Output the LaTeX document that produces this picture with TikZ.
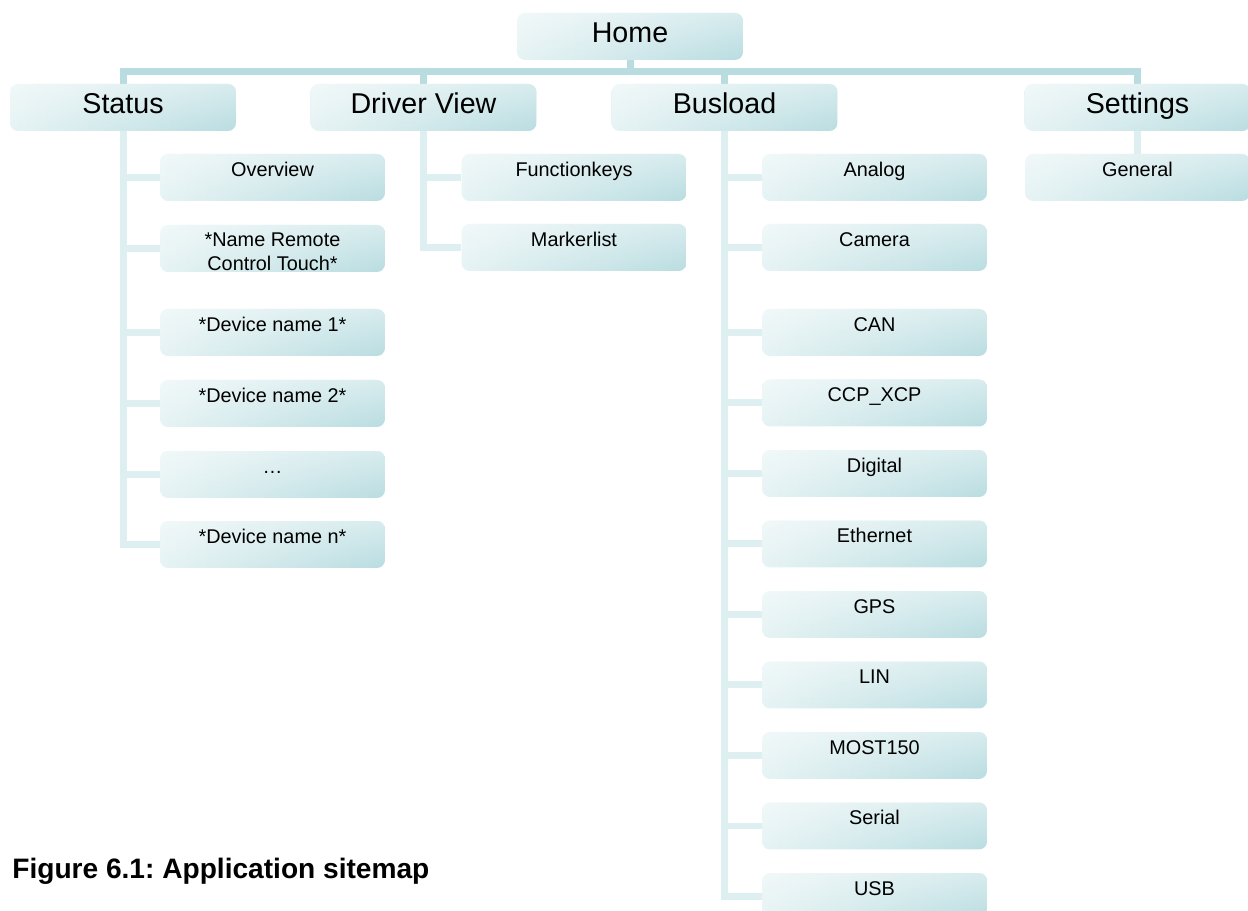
\documentclass[tikz,border=0pt]{standalone}
\usepackage{fontspec}
\setmainfont{Liberation Sans}
\usetikzlibrary{backgrounds,fadings}

\definecolor{tileL}{HTML}{E6F3F4}
\definecolor{tileR}{HTML}{B9DDE1}
\definecolor{trunkcol}{HTML}{B8DCE0}
\definecolor{branchcol}{HTML}{DDEFF0}

\tikzset{
  tile/.style={draw=none, rounded corners=0.16cm, left color=tileL, right color=tileR,
    inner xsep=0pt, inner ysep=0pt, align=center,
    path picture={\fill[white, path fading=south, opacity=0.45]
      (path picture bounding box.south west) rectangle (path picture bounding box.north east);}},
  headbox/.style={tile, minimum width=4.52cm, minimum height=0.94cm,
    text height=0.59cm, text depth=0.35cm, font=\fontsize{16.3}{19}\selectfont},
  leafbox/.style={tile, minimum width=4.5cm, minimum height=0.94cm,
    text height=0.45cm, text depth=0.49cm, font=\fontsize{11.3}{13.6}\selectfont},
  % two lines: the baseline sits on the last line
  leafboxtwo/.style={leafbox, text height=0.914cm, text depth=0.026cm},
  trunk/.style={draw=trunkcol, line width=0.14cm, line join=miter},
  branch/.style={draw=branchcol, line width=0.14cm, line join=miter},
}

\begin{document}
\frenchspacing
\begin{tikzpicture}[x=0.02cm,y=-0.02cm]
  \useasboundingbox (0,0) rectangle (1248,911);
  \clip (0,0) rectangle (1248,911);

  % top level
  \node[headbox] (home) at (630,36.5) {Home};
  \coordinate (bar) at (630,71.5);

  % second level
  \node[headbox] (status)   at (123,107.5)    {Status};
  \node[headbox] (driver)   at (423.5,107.5)  {Driver View};
  \node[headbox] (busload)  at (724.5,107.5)  {Busload};
  \node[headbox] (settings) at (1137.5,107.5) {Settings};

  % pages under Status
  \node[leafbox] (overview) at (272.5,177.5) {Overview};
  \node[leafboxtwo] (remote) at (272.5,248.5) {*Name Remote\\Control Touch*};
  \node[leafbox] (devone)   at (272.5,332.5) {*Device name 1*};
  \node[leafbox] (devtwo)   at (272.5,403.5) {*Device name 2*};
  \node[leafbox] (devdots)  at (272.5,474.5) {…};
  \node[leafbox] (devn)     at (272.5,544.5) {*Device name n*};

  % pages under Driver View
  \node[leafbox] (fkeys)   at (574,177.5) {Functionkeys};
  \node[leafbox] (markers) at (574,247.5) {Markerlist};

  % pages under Busload
  \node[leafbox] (analog)   at (874.5,177.5) {Analog};
  \node[leafbox] (camera)   at (874.5,247.5) {Camera};
  \node[leafbox] (can)      at (874.5,332.5) {CAN};
  \node[leafbox] (ccp)      at (874.5,403)   {CCP\_XCP};
  \node[leafbox] (digital)  at (874.5,473.5) {Digital};
  \node[leafbox] (ethernet) at (874.5,544)   {Ethernet};
  \node[leafbox] (gps)      at (874.5,614.5) {GPS};
  \node[leafbox] (lin)      at (874.5,685)   {LIN};
  \node[leafbox] (most)     at (874.5,755.5) {MOST150};
  \node[leafbox] (serial)   at (874.5,826)   {Serial};
  \node[leafbox] (usb)      at (874.5,896.5) {USB};

  % pages under Settings
  \node[leafbox] (general) at (1137.5,177.5) {General};

  \node[anchor=base west, inner sep=0pt, font=\fontsize{16}{19}\selectfont\bfseries]
    (caption) at (12,879) {Figure 6.1: Application sitemap};

  \begin{scope}[on background layer]
    % main bar
    \draw[trunk] (status.north) |- (bar) -| (settings.north);
    \draw[trunk] (home.south) -- (bar);
    \draw[trunk] (driver.north) -- (driver.north |- bar);
    \draw[trunk] (busload.north) -- (busload.north |- bar);

    % Status branches
    \draw[branch] (status.south) |- (devn.west);
    \draw[branch] (status.south |- overview.west) -- (overview.west);
    \draw[branch] (status.south |- remote.west) -- (remote.west);
    \draw[branch] (status.south |- devone.west) -- (devone.west);
    \draw[branch] (status.south |- devtwo.west) -- (devtwo.west);
    \draw[branch] (status.south |- devdots.west) -- (devdots.west);

    % Driver View branches
    \draw[branch] (driver.south) |- (markers.west);
    \draw[branch] (driver.south |- fkeys.west) -- (fkeys.west);

    % Busload branches
    \draw[branch] (busload.south) |- (usb.west);
    \draw[branch] (busload.south |- analog.west) -- (analog.west);
    \draw[branch] (busload.south |- camera.west) -- (camera.west);
    \draw[branch] (busload.south |- can.west) -- (can.west);
    \draw[branch] (busload.south |- ccp.west) -- (ccp.west);
    \draw[branch] (busload.south |- digital.west) -- (digital.west);
    \draw[branch] (busload.south |- ethernet.west) -- (ethernet.west);
    \draw[branch] (busload.south |- gps.west) -- (gps.west);
    \draw[branch] (busload.south |- lin.west) -- (lin.west);
    \draw[branch] (busload.south |- most.west) -- (most.west);
    \draw[branch] (busload.south |- serial.west) -- (serial.west);

    % Settings branch
    \draw[branch] (settings.south) -- (general.north);
  \end{scope}
\end{tikzpicture}
\end{document}
